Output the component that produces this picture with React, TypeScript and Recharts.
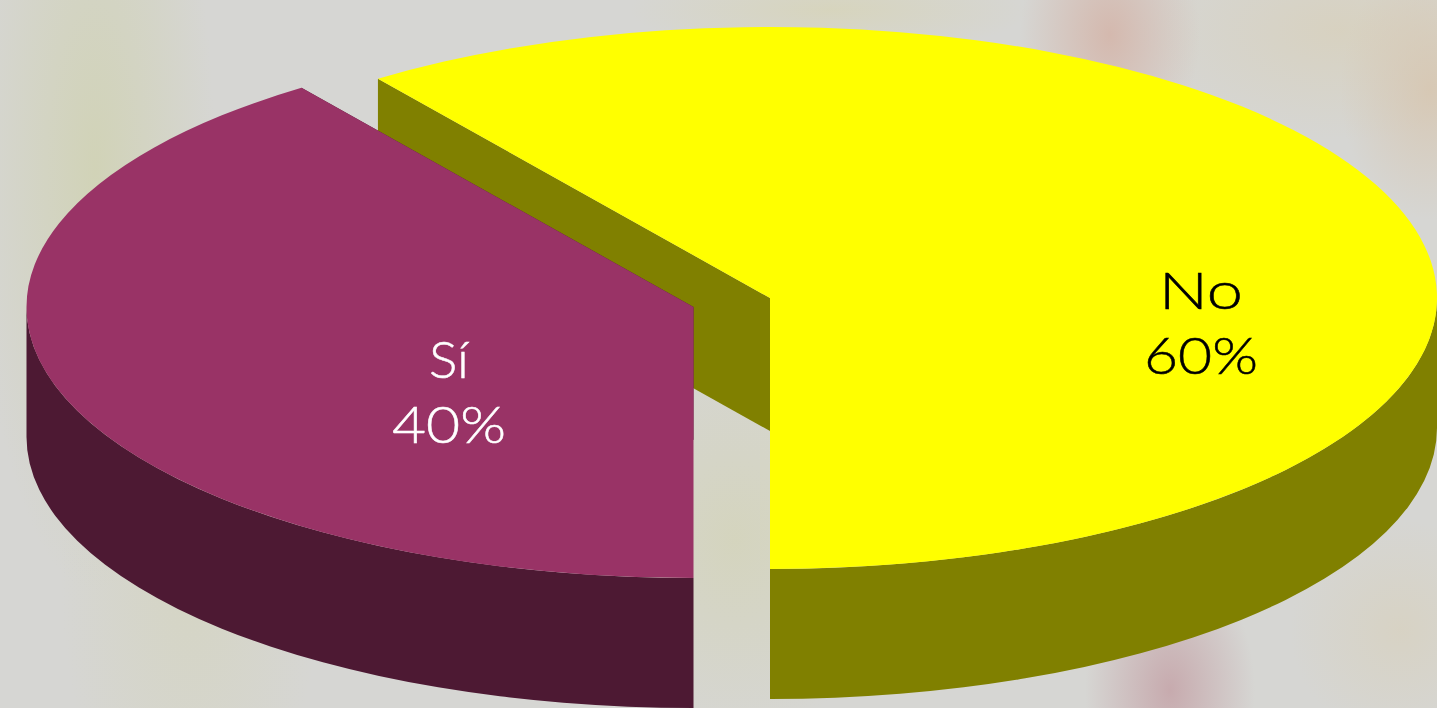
import React from 'react';
import { PieChart, Pie } from 'recharts';

const categories = ['No', 'Sí'];
const values = [60, 40];
const topColors = ['#FFFF00', '#993366'];
const sideColors = ['#808000', '#4D1933'];
const labelColors = ['#000000', '#FFFFFF'];

const W = 1437;
const H = 708;
const CX = 770;
const CY = 298;
const RX = 667;
const RY = 271;
const EDGE_DEPTH = 133;
const RIM_DEPTH = 130;
const offsets = [{ dx: 0, dy: 0 }, { dx: -76.5, dy: 9 }];
const labelSpots = [{ x: 1201, y1: 309, y2: 374 }, { x: 449, y1: 378, y2: 443 }];
const nameWidths = [84, 40];
const percentWidth = 114;
const FONT_SIZE = 51;

const table = categories.map((name, i) => ({ name, value: values[i], fill: topColors[i] }));

const background = [
  'radial-gradient(ellipse 120px 420px at 95px 170px, rgba(208,210,178,0.85), rgba(208,210,178,0) 100%)',
  'radial-gradient(ellipse 130px 320px at 190px 560px, rgba(212,212,185,0.6), rgba(212,212,185,0) 100%)',
  'radial-gradient(ellipse 90px 130px at 1110px 35px, rgba(212,183,172,0.95), rgba(212,183,172,0) 100%)',
  'radial-gradient(ellipse 85px 130px at 1170px 690px, rgba(198,168,172,0.95), rgba(198,168,172,0) 100%)',
  'radial-gradient(ellipse 200px 45px at 830px 10px, rgba(215,212,182,0.75), rgba(215,212,182,0) 100%)',
  'radial-gradient(ellipse 90px 130px at 1430px 90px, rgba(215,198,176,0.85), rgba(215,198,176,0) 100%)',
  'radial-gradient(ellipse 200px 110px at 1340px 30px, rgba(216,208,186,0.75), rgba(216,208,186,0) 100%)',
  'radial-gradient(ellipse 110px 110px at 1400px 630px, rgba(216,208,186,0.6), rgba(216,208,186,0) 100%)',
  'radial-gradient(ellipse 160px 200px at 735px 540px, rgba(212,212,186,0.85), rgba(212,212,186,0) 100%)',
].join(',');

function point(cx: number, cy: number, deg: number) {
  const a = (deg * Math.PI) / 180;
  return { x: cx + RX * Math.cos(a), y: cy - RY * Math.sin(a) };
}

function SolidSlice(props: any) {
  const { cx, cy, startAngle, endAngle, index, payload } = props;
  const i = index ?? categories.indexOf(payload?.name);
  const c = { x: cx + offsets[i].dx, y: cy + offsets[i].dy };
  const s = point(c.x, c.y, startAngle);
  const e = point(c.x, c.y, endAngle);
  const large = Math.abs(endAngle - startAngle) > 180 ? 1 : 0;
  const top = `M${c.x},${c.y}L${s.x},${s.y}A${RX},${RY} 0 ${large} 1 ${e.x},${e.y}Z`;
  const edge = (p: { x: number; y: number }) =>
    `M${c.x},${c.y}L${p.x},${p.y}L${p.x},${p.y + EDGE_DEPTH}L${c.x},${c.y + EDGE_DEPTH}Z`;

  // the outer rim is only seen on the near half of the ellipse
  const hi = Math.min(startAngle, 0);
  const lo = Math.max(endAngle, -180);
  const a = point(c.x, c.y, hi);
  const b = point(c.x, c.y, lo);
  const rim = `M${a.x},${a.y}A${RX},${RY} 0 0 1 ${b.x},${b.y}L${b.x},${b.y + RIM_DEPTH}A${RX},${RY} 0 0 0 ${a.x},${a.y + RIM_DEPTH}Z`;
  const side = sideColors[i];
  return (
    <g>
      <path d={edge(s)} fill={side} />
      <path d={edge(e)} fill={side} />
      <path d={rim} fill={side} />
      <path d={top} fill={topColors[i]} />
    </g>
  );
}

function SliceLabel(props: any) {
  const { index, name, percent } = props;
  const spot = labelSpots[index];
  const color = labelColors[index];
  const common = {
    x: spot.x,
    textAnchor: 'middle' as const,
    lengthAdjust: 'spacingAndGlyphs' as const,
    fill: color,
    stroke: color,
    strokeWidth: 0.5,
    style: { fontFamily: 'Lato, sans-serif', fontWeight: 300, fontSize: FONT_SIZE },
  };
  return (
    <g>
      <text {...common} y={spot.y1} textLength={nameWidths[index]}>
        {name}
      </text>
      <text {...common} y={spot.y2} textLength={percentWidth}>
        {`${Math.round(percent * 100)}%`}
      </text>
    </g>
  );
}

export default function App() {
  return (
    <div
      style={{
        position: 'absolute',
        left: 0,
        top: 0,
        width: W,
        height: H,
        overflow: 'hidden',
        backgroundColor: '#D6D6D3',
        backgroundImage: background,
      }}
    >
      <PieChart width={W} height={H} margin={{ top: 0, right: 0, bottom: 0, left: 0 }}>
        <Pie
          data={table}
          dataKey="value"
          nameKey="name"
          cx={CX}
          cy={CY}
          innerRadius={0}
          outerRadius={RX}
          startAngle={126}
          endAngle={-234}
          paddingAngle={0}
          stroke="none"
          isAnimationActive={false}
          shape={SolidSlice}
          label={SliceLabel}
          labelLine={false}
        />
      </PieChart>
    </div>
  );
}
